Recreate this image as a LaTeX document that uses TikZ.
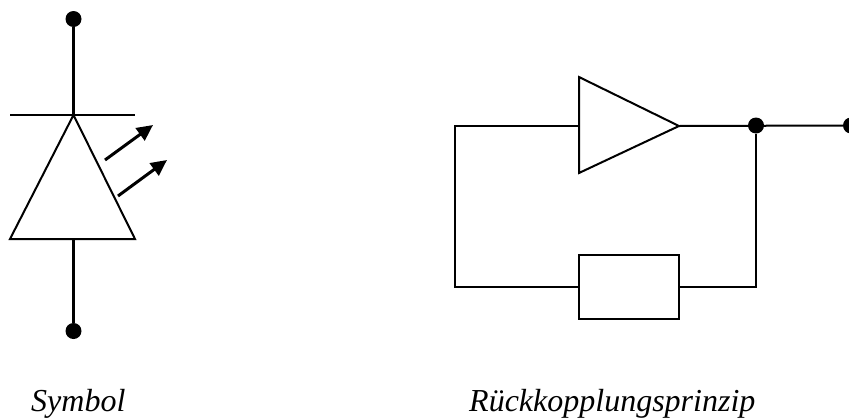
\documentclass[tikz,border=0pt]{standalone}
\usepackage{fontspec}
\setmainfont{Liberation Serif}
\usetikzlibrary{arrows.meta}
\tikzset{
  wire/.style={line width=2pt,line cap=butt},
  thick wire/.style={line width=3pt},
  terminal/.style={circle,fill=black,inner sep=0pt,minimum size=16pt},
  ray/.style={line width=3pt,-{Triangle[length=16pt,width=15pt]}},
  caption/.style={font=\itshape\fontsize{32}{36}\selectfont,inner sep=0pt,anchor=base west},
  resistor/.style={draw,line width=2pt,minimum width=100pt,minimum height=64pt,inner sep=0pt}
}
\begin{document}
\begin{tikzpicture}[x=1pt,y=-1pt]
\useasboundingbox (0,0) rectangle (849,418);
% LED symbol
\node[terminal] (top) at (73.5,19) {};
\node[terminal] (bot) at (73.5,331) {};
\coordinate (apex) at (73.5,115);
\coordinate (baseL) at (10,239);
\coordinate (baseR) at (135,239);
\coordinate (baseM) at (73.5,239);
\coordinate (barL) at (10,115);
\coordinate (barR) at (135,115);
\draw[thick wire] (top) -- (apex);
\draw[thick wire] (baseM) -- (bot);
\draw[wire] (barL) -- (barR);
\draw[wire,line join=miter] (apex) -- (baseL) -- (baseR) -- cycle;
\coordinate (r1a) at (105,160);
\coordinate (r1b) at (153,125);
\coordinate (r2a) at (118,196);
\coordinate (r2b) at (167,160);
\draw[ray] (r1a) -- (r1b);
\draw[ray] (r2a) -- (r2b);
% Feedback principle
\coordinate (ampA) at (579,77);
\coordinate (ampB) at (579,173);
\coordinate (ampOut) at (679,126);
\coordinate (ampIn) at (579,126);
\draw[wire] (ampA) -- (ampB) -- (ampOut) -- cycle;
\node[resistor] (res) at (629,287) {};
\node[terminal] (junction) at (756,125.5) {};
\node[terminal] (out) at (851,125.5) {};
\coordinate (cornerTL) at (455,126);
\coordinate (cornerBL) at (455,287);
\coordinate (cornerBR) at (756,287);
\draw[wire] (ampOut) -- (out);
\draw[wire] (ampIn) -- (cornerTL) -- (cornerBL) -- (res.west);
\draw[wire] (res.east) -- (cornerBR) -- (junction);
% Captions
\node[caption] (cap1) at (31,411.5) {Symbol};
\node[caption] (cap2) at (469,411.5) {Rückkopplungsprinzip};
\end{tikzpicture}
\end{document}
